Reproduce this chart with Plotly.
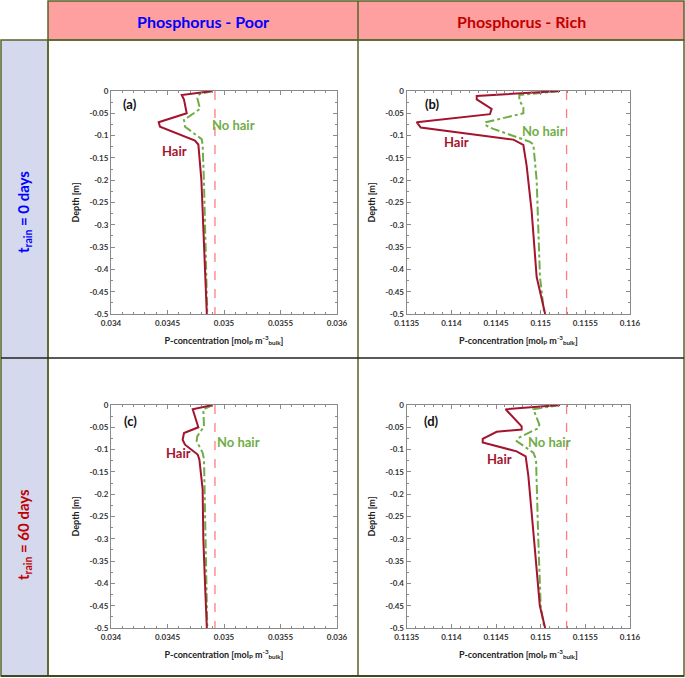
import plotly.graph_objects as go

# ---------------- data ----------------
depth_ticks = [0, -0.05, -0.1, -0.15, -0.2, -0.25, -0.3, -0.35, -0.4, -0.45, -0.5]
depth_tick_text = ["0", "-0.05", "-0.1", "-0.15", "-0.2", "-0.25", "-0.3", "-0.35", "-0.4", "-0.45", "-0.5"]
poor_ticks = [0.034, 0.0345, 0.035, 0.0355, 0.036]
poor_tick_text = ["0.034", "0.0345", "0.035", "0.0355", "0.036"]
rich_ticks = [0.1135, 0.114, 0.1145, 0.115, 0.1155, 0.116]
rich_tick_text = ["0.1135", "0.114", "0.1145", "0.115", "0.1155", "0.116"]

bulk_poor = 0.03492
bulk_rich = 0.11529

# (a) P-poor, t_rain = 0 days
a_hair_depth = [0, -0.009, -0.019, -0.05, -0.07, -0.08, -0.111, -0.12, -0.2, -0.3, -0.4, -0.5]
a_hair_conc = [0.0349, 0.034626, 0.034646, 0.034670, 0.034422, 0.034434, 0.034743, 0.034773, 0.034800, 0.034818, 0.034834, 0.034848]
a_nohair_depth = [0, -0.007, -0.016, -0.04, -0.065, -0.08, -0.108, -0.12, -0.2, -0.3, -0.4, -0.5]
a_nohair_conc = [0.0349, 0.034782, 0.034764, 0.034788, 0.034646, 0.034655, 0.034802, 0.034811, 0.034822, 0.034832, 0.034842, 0.034852]

# (b) P-rich, t_rain = 0 days
b_hair_depth = [0, -0.011, -0.019, -0.04, -0.052, -0.07, -0.082, -0.109, -0.121, -0.168, -0.27, -0.417, -0.45, -0.5]
b_hair_conc = [0.115216, 0.114284, 0.114284, 0.114451, 0.114432, 0.113612, 0.113657, 0.114694, 0.114806, 0.114843, 0.114899, 0.114955, 0.114993, 0.11505]
b_nohair_depth = [0, -0.009, -0.02, -0.037, -0.05, -0.07, -0.076, -0.085, -0.114, -0.12, -0.2, -0.3, -0.417, -0.5]
b_nohair_conc = [0.115216, 0.114761, 0.114761, 0.114806, 0.114806, 0.114388, 0.114377, 0.11447, 0.11488, 0.114918, 0.114955, 0.114975, 0.114992, 0.11504]

# (c) P-poor, t_rain = 60 days
c_hair_depth = [0, -0.0096, -0.05, -0.063, -0.078, -0.089, -0.111, -0.122, -0.189, -0.3, -0.4, -0.5]
c_hair_conc = [0.0349, 0.034723, 0.034773, 0.034646, 0.034634, 0.034655, 0.034767, 0.034782, 0.034811, 0.034817, 0.034832, 0.034848]
c_nohair_depth = [0, -0.0096, -0.048, -0.07, -0.081, -0.107, -0.122, -0.2, -0.3, -0.4, -0.5]
c_nohair_conc = [0.0349, 0.034817, 0.034823, 0.034764, 0.034758, 0.034811, 0.034823, 0.034830, 0.034837, 0.034845, 0.034852]

# (d) P-rich, t_rain = 60 days
d_hair_depth = [0, -0.0096, -0.048, -0.055, -0.06, -0.076, -0.084, -0.104, -0.115, -0.159, -0.3, -0.45, -0.5]
d_hair_conc = [0.115216, 0.114608, 0.114787, 0.114787, 0.114507, 0.114351, 0.114351, 0.114731, 0.114832, 0.114862, 0.114925, 0.11499, 0.11505]
d_nohair_depth = [0, -0.0096, -0.044, -0.052, -0.074, -0.081, -0.107, -0.122, -0.3, -0.45, -0.5]
d_nohair_conc = [0.115216, 0.114918, 0.114985, 0.114974, 0.114749, 0.114731, 0.114918, 0.114948, 0.114973, 0.115, 0.11504]

col_titles = ["Phosphorus - Poor", "Phosphorus - Rich"]
row_titles = ["t<sub>rain</sub> = 0 days", "t<sub>rain</sub> = 60 days"]
panel_labels = ["(a)", "(b)", "(c)", "(d)"]

# ---------------- layout helpers ----------------
W, H = 685, 678
FONT = "Lato"
HAIR_C = "#A3142E"
NOHAIR_C = "#70AD47"
BULK_C = "#FF7C80"
OLIVE = "#55652A"


def px(x):
    return x / W


def py(y):
    return 1 - y / H


panels = [
    ("a", a_hair_conc, a_hair_depth, a_nohair_conc, a_nohair_depth, bulk_poor, poor_ticks, poor_tick_text,
     [0.034, 0.036], (111, 337), (91, 314), (0.03417, -0.029), (0.03456, -0.134), (0.03488, -0.076)),
    ("b", b_hair_conc, b_hair_depth, b_nohair_conc, b_nohair_depth, bulk_rich, rich_ticks, rich_tick_text,
     [0.1135, 0.116], (406.7, 630), (91, 314), (0.11379, -0.029), (0.11406, -0.114), (0.11477, -0.089)),
    ("c", c_hair_conc, c_hair_depth, c_nohair_conc, c_nohair_depth, bulk_poor, poor_ticks, poor_tick_text,
     [0.034, 0.036], (111, 337), (405, 628), (0.03417, -0.035), (0.03460, -0.108), (0.03492, -0.082)),
    ("d", d_hair_conc, d_hair_depth, d_nohair_conc, d_nohair_depth, bulk_rich, rich_ticks, rich_tick_text,
     [0.1135, 0.116], (406.7, 630), (405, 628), (0.11378, -0.035), (0.11454, -0.12), (0.11483, -0.082)),
]

fig = go.Figure()
layout = dict(
    width=W, height=H, margin=dict(l=0, r=0, t=0, b=0, autoexpand=False),
    paper_bgcolor="white", plot_bgcolor="white", showlegend=False,
    font=dict(family=FONT, color="#222"),
)
annotations = []
shapes = []

tickfont = dict(family=FONT, size=8, color="#333", weight="bold")
for i, (nm, hc, hd, nc, nd, bulk, tv, tt, rng, xd, yd, lab, hpos, npos) in enumerate(panels):
    k = "" if i == 0 else str(i + 1)
    xa, ya = "x" + k, "y" + k
    fig.add_trace(go.Scatter(x=[bulk, bulk], y=[0, -0.5], mode="lines", xaxis=xa, yaxis=ya,
                             line=dict(color=BULK_C, width=1.3, dash="dash")))
    fig.add_trace(go.Scatter(x=nc, y=nd, mode="lines", xaxis=xa, yaxis=ya,
                             line=dict(color=NOHAIR_C, width=2, dash="dashdot")))
    fig.add_trace(go.Scatter(x=hc, y=hd, mode="lines", xaxis=xa, yaxis=ya,
                             line=dict(color=HAIR_C, width=2)))
    layout["xaxis" + k] = dict(
        domain=[px(xd[0]), px(xd[1])], anchor=ya, range=rng, tickvals=tv, ticktext=tt,
        automargin=False,
        showgrid=False, zeroline=False, showline=True, linecolor="#8a8a8a", linewidth=1.2,
        mirror="allticks", ticks="inside", ticklen=4, tickcolor="#8a8a8a", tickfont=tickfont,
        ticklabelstandoff=1,
        minor=dict(ticks="inside", dtick=0.0001, ticklen=2, tickcolor="#8a8a8a"),
        title=dict(text="P-concentration [mol<sub>P</sub> m<sup>-3</sup><sub>bulk</sub>]",
                   font=dict(family=FONT, size=9, color="#222", weight="bold"), standoff=10),
    )
    layout["yaxis" + k] = dict(
        domain=[py(yd[1]), py(yd[0])], anchor=xa, range=[-0.5, 0], tickvals=depth_ticks,
        automargin=False,
        ticktext=depth_tick_text, showgrid=False, zeroline=False, showline=True,
        linecolor="#8a8a8a", linewidth=1.2, mirror="allticks", ticks="inside", ticklen=4,
        tickcolor="#8a8a8a", tickfont=tickfont,
        minor=dict(ticks="inside", dtick=0.025, ticklen=2, tickcolor="#8a8a8a"),
        title=dict(text="Depth [m]", font=dict(family=FONT, size=9, color="#222", weight="bold"),
                   standoff=8),
    )
    annotations.append(dict(x=lab[0], y=lab[1], xref=xa, yref=ya, text="<b>" + panel_labels[i] + "</b>",
                            showarrow=False, font=dict(family=FONT, size=13, color="#111")))
    annotations.append(dict(x=hpos[0], y=hpos[1], xref=xa, yref=ya, text="<b>Hair</b>",
                            showarrow=False, font=dict(family=FONT, size=13, color=HAIR_C)))
    annotations.append(dict(x=npos[0], y=npos[1], xref=xa, yref=ya, text="<b>No hair</b>",
                            xanchor="left", showarrow=False, font=dict(family=FONT, size=13, color=NOHAIR_C)))

# frame: header row, side column, cells
shapes.append(dict(type="rect", xref="paper", yref="paper", x0=px(48), x1=px(684), y0=py(40), y1=py(1),
                   fillcolor="#FFA0A0", line=dict(color=OLIVE, width=1.5), layer="below"))
shapes.append(dict(type="rect", xref="paper", yref="paper", x0=px(1), x1=px(48), y0=py(676), y1=py(40),
                   fillcolor="#D5D9EE", line=dict(color=OLIVE, width=1.5), layer="below"))
shapes.append(dict(type="rect", xref="paper", yref="paper", x0=px(48), x1=px(684), y0=py(676), y1=py(40),
                   fillcolor="rgba(0,0,0,0)", line=dict(color=OLIVE, width=1.5), layer="below"))
shapes.append(dict(type="line", xref="paper", yref="paper", x0=px(358), x1=px(358), y0=py(676), y1=py(1),
                   line=dict(color=OLIVE, width=1.5), layer="below"))
shapes.append(dict(type="line", xref="paper", yref="paper", x0=px(1), x1=px(684), y0=py(358), y1=py(358),
                   line=dict(color="#222", width=1.5), layer="below"))
shapes.append(dict(type="line", xref="paper", yref="paper", x0=px(1), x1=px(684), y0=py(676), y1=py(676),
                   line=dict(color="#3F4A22", width=2), layer="below"))

hdr = dict(xref="paper", yref="paper", xanchor="center", yanchor="middle", showarrow=False)
annotations.append(dict(x=px(203), y=py(21), text="<b>" + col_titles[0] + "</b>",
                        font=dict(family=FONT, size=16, color="#0000FF"), **hdr))
annotations.append(dict(x=px(521), y=py(21), text="<b>" + col_titles[1] + "</b>",
                        font=dict(family=FONT, size=16, color="#C00000"), **hdr))
annotations.append(dict(x=px(24), y=py(212), text="<b>" + row_titles[0] + "</b>", textangle=-90,
                        font=dict(family=FONT, size=15, color="#0000FF"), **hdr))
annotations.append(dict(x=px(24), y=py(535), text="<b>" + row_titles[1] + "</b>", textangle=-90,
                        font=dict(family=FONT, size=15, color="#C00000"), **hdr))

layout["annotations"] = annotations
layout["shapes"] = shapes
fig.update_layout(**layout)
fig.write_html("out.html", config={"displayModeBar": False},
               post_script="document.body.style.margin='0px';")
